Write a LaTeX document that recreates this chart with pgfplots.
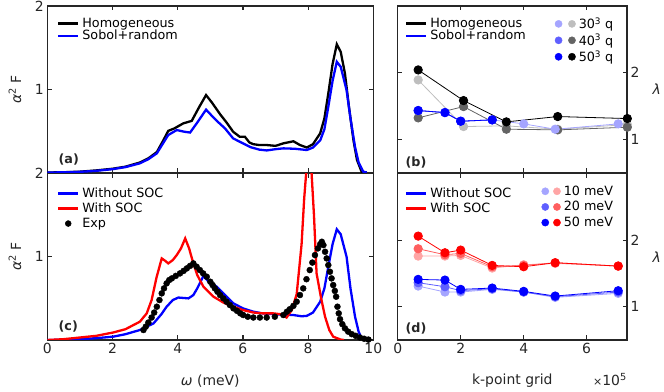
\documentclass[border=0pt]{standalone}
\usepackage{fontspec}
\setmainfont{DejaVu Sans}
\usepackage{pgfplots}
\pgfplotsset{compat=1.18}

\newcommand{\myLegFont}{\fontsize{12.8}{15}\selectfont}
\newcommand{\myTickFont}{\fontsize{14}{16}\selectfont}
\newcommand{\mySmallFont}{\fontsize{11}{13}\selectfont}

\definecolor{axgray}{RGB}{38,38,38}
\definecolor{blue50}{RGB}{0,0,255}
\definecolor{blue40}{RGB}{95,95,255}
\definecolor{blue30}{RGB}{165,165,255}
\definecolor{red50}{RGB}{255,0,0}
\definecolor{red20}{RGB}{255,95,95}
\definecolor{red10}{RGB}{255,165,165}
\definecolor{gray30}{RGB}{190,190,190}
\definecolor{gray40}{RGB}{100,100,100}

\pgfplotsset{
  panel/.style={
    scale only axis, anchor=south west,
    axis line style={axgray, line width=1.3bp},
    tick style={axgray, line width=1.2bp},
    major tick length=4.5bp, tick align=inside,
    tick label style={font=\myTickFont, text=axgray},
    /pgf/number format/assume math mode=true,
    label style={font=\myTickFont, text=axgray},
    legend style={draw=none, fill=none, font=\myLegFont, inner sep=0pt, outer sep=0pt,
      cells={anchor=west}, row sep=0bp,
      /tikz/every odd column/.append style={column sep=1bp}},
    legend image code/.code={\draw[#1] (0bp,0bp) -- (20bp,0bp);},
  },
  leftp/.style={panel, width=326bp, height=166.5bp,
    xmin=0, xmax=10, ymin=0, ymax=2, xtick={0,2,...,10}, ytick={1,2},
    ylabel style={at={(axis description cs:-0.099,0.5)}, anchor=center}},
  rightp/.style={panel, width=229.3bp, height=166.5bp,
    xmin=0, xmax=7.28, ymin=0.5, ymax=3, xtick={0,2,4,6}, ytick={1,2},
    yticklabel pos=right, clip=false,
    ylabel style={at={(axis description cs:1.13,0.5)}, anchor=center, rotate=-90}},
  pt/.style={mark=*, mark size=4.2bp, line width=0.8bp},
  pair/.style n args={3}{legend image code/.code={
    \fill[#1] (3.6bp,0bp) circle (3.6bp);
    \fill[#2] (3.6bp+#3,0bp) circle (3.6bp);}},
}

\begin{document}
\begin{tikzpicture}
\path[use as bounding box] (0,0) rectangle (664bp,392bp);

% (a)
\begin{axis}[leftp, at={(47.3bp,219.5bp)}, xticklabels={},
  ylabel={{\itshape α}\textsuperscript{2} F},
  legend style={at={(0.030,0.94)}, anchor=north west, row sep=-2.5bp}]
\addplot[black, line width=2.3bp] coordinates {
 (0,0) (0.5,0.003) (1.0,0.01) (1.5,0.025) (2.0,0.045) (2.4,0.07) (2.84,0.12)
 (3.1,0.17) (3.36,0.245) (3.55,0.38) (3.71,0.50) (3.9,0.53) (4.17,0.59)
 (4.43,0.62) (4.65,0.78) (4.87,0.93) (5.05,0.84) (5.3,0.70) (5.5,0.60)
 (5.7,0.49) (5.9,0.43) (6.06,0.43) (6.2,0.36) (6.32,0.34) (6.5,0.33)
 (6.73,0.33) (7.0,0.32) (7.24,0.35) (7.55,0.375) (7.75,0.33) (7.96,0.30)
 (8.15,0.34) (8.37,0.47) (8.5,0.65) (8.62,0.95) (8.75,1.3) (8.88,1.54)
 (9.0,1.45) (9.13,1.19) (9.25,0.8) (9.39,0.39) (9.5,0.15) (9.64,0.01) (9.8,0)
};
\addlegendentry{Homogeneous}
\addplot[blue50, line width=2.3bp] coordinates {
 (0,0) (0.5,0.002) (1.0,0.008) (1.5,0.02) (2.0,0.04) (2.4,0.065) (2.84,0.11)
 (3.1,0.16) (3.36,0.23) (3.55,0.35) (3.71,0.45) (3.97,0.51) (4.2,0.49)
 (4.38,0.48) (4.6,0.6) (4.87,0.755) (5.05,0.68) (5.2,0.62) (5.45,0.53)
 (5.7,0.41) (6.0,0.35) (6.23,0.305) (6.5,0.275) (6.73,0.265) (7.0,0.28)
 (7.24,0.29) (7.6,0.285) (7.96,0.27) (8.15,0.3) (8.37,0.385) (8.5,0.52)
 (8.62,0.79) (8.75,1.1) (8.88,1.33) (9.0,1.27) (9.18,0.99) (9.3,0.65)
 (9.44,0.305) (9.55,0.12) (9.69,0.01) (9.8,0)
};
\addlegendentry{Sobol+random}
\node[anchor=west, font=\bfseries\myLegFont, text=axgray] at (axis description cs:0.024,0.081) {(a)};
\end{axis}

% (c)
\begin{axis}[leftp, at={(47.3bp,52bp)},
  ylabel={{\itshape α}\textsuperscript{2} F},
  xlabel={{\itshape ω} (meV)},
  xlabel style={at={(axis description cs:0.5,0)}, anchor=center, yshift=-41bp},
  legend style={at={(0.030,0.926)}, anchor=north west}]
\addplot[blue50, line width=2.3bp] coordinates {
 (0,0) (0.5,0.003) (1,0.01) (1.5,0.022) (2.02,0.04) (2.4,0.07) (2.84,0.12)
 (3.26,0.2) (3.5,0.31) (3.66,0.40) (3.85,0.48) (4.02,0.51) (4.33,0.50)
 (4.48,0.54) (4.6,0.62) (4.79,0.77) (4.95,0.70) (5.2,0.64) (5.45,0.54)
 (5.71,0.44) (6.0,0.38) (6.32,0.34) (6.6,0.32) (6.93,0.31) (7.25,0.305)
 (7.55,0.30) (7.8,0.285) (7.96,0.29) (8.15,0.33) (8.37,0.46) (8.5,0.62)
 (8.62,0.88) (8.75,1.15) (8.88,1.33) (9.0,1.27) (9.18,1.0) (9.3,0.62)
 (9.44,0.28) (9.55,0.10) (9.64,0.02) (9.8,0)
};
\addlegendentry{Without SOC}
\addplot[red50, line width=2.3bp] coordinates {
 (0,0) (0.5,0.01) (1,0.03) (1.5,0.05) (2.02,0.09) (2.4,0.13) (2.84,0.22)
 (3.05,0.32) (3.2,0.48) (3.35,0.75) (3.51,0.98) (3.62,0.95) (3.71,0.92)
 (3.85,0.96) (3.97,1.02) (4.1,1.1) (4.23,1.22) (4.35,1.1) (4.48,0.92)
 (4.6,0.78) (4.79,0.64) (5.1,0.52) (5.4,0.45) (5.71,0.40) (6.0,0.36)
 (6.32,0.33) (6.6,0.32) (6.93,0.32) (7.15,0.31) (7.34,0.27) (7.5,0.36)
 (7.65,0.55) (7.8,1.15) (7.88,1.7) (7.95,2.05) (8.02,2.25) (8.1,2.05)
 (8.18,1.5) (8.26,0.80) (8.4,0.5) (8.52,0.28) (8.65,0.12) (8.77,0.04)
 (9.0,0.005) (9.1,0)
};
\addlegendentry{With SOC}
\addplot[only marks, mark=*, mark size=3bp, black,
  legend image code/.code={\path[draw=none, fill=none] (0bp,0bp) -- (20bp,0bp); \fill[black] (10bp,0bp) circle (3bp);}] coordinates {
 (2.95,0.12) (3.02,0.16) (3.1,0.21) (3.2,0.27) (3.28,0.33) (3.36,0.40)
 (3.44,0.48) (3.51,0.56) (3.58,0.62) (3.66,0.68) (3.74,0.72) (3.82,0.74)
 (3.94,0.77) (4.07,0.80) (4.18,0.83) (4.28,0.86) (4.38,0.89) (4.48,0.92)
 (4.58,0.88) (4.68,0.84) (4.78,0.80) (4.89,0.76) (5.0,0.70) (5.07,0.66)
 (5.14,0.62) (5.22,0.58) (5.3,0.54) (5.4,0.50) (5.5,0.46) (5.6,0.42)
 (5.71,0.38) (5.82,0.35) (5.92,0.32) (6.01,0.30) (6.15,0.28) (6.32,0.27)
 (6.52,0.27) (6.73,0.27) (6.98,0.28) (7.24,0.30) (7.35,0.34) (7.44,0.37)
 (7.55,0.41) (7.65,0.46) (7.75,0.54) (7.85,0.62) (7.95,0.73) (8.05,0.84)
 (8.13,0.93) (8.21,1.02) (8.3,1.1) (8.37,1.15) (8.42,1.18) (8.47,1.14)
 (8.52,1.06) (8.57,0.98) (8.62,0.90) (8.67,0.82) (8.72,0.74) (8.77,0.66)
 (8.82,0.59) (8.86,0.52) (8.9,0.40) (8.94,0.32) (8.98,0.25) (9.05,0.19)
 (9.13,0.14) (9.23,0.10) (9.34,0.07) (9.46,0.05) (9.59,0.03) (9.72,0.015)
 (9.85,0.005)
};
\addlegendentry{Exp}
\node[anchor=west, font=\bfseries\myLegFont, text=axgray] at (axis description cs:0.024,0.082) {(c)};
\end{axis}

% (b)
\begin{axis}[rightp, at={(397.7bp,219.5bp)}, xticklabels={},
  ylabel={{\itshape λ}},
  legend style={at={(0.032,0.94)}, anchor=north west, row sep=-2.5bp}]
\addlegendimage{black, line width=2.3bp}
\addlegendentry{Homogeneous}
\addlegendimage{blue50, line width=2.3bp}
\addlegendentry{Sobol+random}
\addplot[gray30, pt, forget plot] coordinates {
 (0.65,1.89) (2.09,1.19) (3.45,1.20) (5.08,1.15) (7.29,1.22)};
\addplot[gray40, pt, forget plot] coordinates {
 (0.65,1.32) (2.09,1.49) (3.45,1.15) (5.08,1.14) (7.29,1.18)};
\addplot[black, pt, forget plot] coordinates {
 (0.65,2.04) (2.09,1.58) (3.45,1.26) (5.08,1.34) (7.29,1.31)};
\addplot[blue30, pt, forget plot] coordinates {
 (0.65,1.43) (1.5,1.40) (2.0,1.27) (3.0,1.29) (4.0,1.23) (5.0,1.15) (7.0,1.23)};
\addplot[blue40, pt, forget plot] coordinates {
 (0.65,1.43) (1.5,1.40) (2.0,1.27) (3.0,1.29)};
\addplot[blue50, pt, forget plot] coordinates {
 (0.65,1.43) (1.5,1.40) (2.0,1.27) (3.0,1.29)};
\node[anchor=west, font=\bfseries\myLegFont, text=axgray] at (axis description cs:0.019,0.063) {(b)};
\end{axis}
\begin{axis}[rightp, at={(397.7bp,219.5bp)}, hide axis,
  legend style={at={(0.685,0.942)}, anchor=north west, row sep=0bp}]
\addlegendimage{pair={blue30}{gray30}{13.4bp}}
\addlegendentry{30\textsuperscript{3} q}
\addlegendimage{pair={blue40}{gray40}{13.4bp}}
\addlegendentry{40\textsuperscript{3} q}
\addlegendimage{pair={blue50}{black}{13.4bp}}
\addlegendentry{50\textsuperscript{3} q}
\end{axis}

% (d)
\begin{axis}[rightp, at={(397.7bp,52bp)},
  ylabel={{\itshape λ}},
  xlabel={k-point grid},
  xlabel style={at={(axis description cs:0.5,0)}, anchor=center, yshift=-41bp},
  legend style={at={(0.032,0.926)}, anchor=north west}]
\addlegendimage{blue50, line width=2.3bp}
\addlegendentry{Without SOC}
\addlegendimage{red50, line width=2.3bp}
\addlegendentry{With SOC}
\addplot[blue30, pt, forget plot] coordinates {
 (0.65,1.31) (1.5,1.22) (2.0,1.22) (3.0,1.26) (4.0,1.22) (5.0,1.14) (7.0,1.20)};
\addplot[blue40, pt, forget plot] coordinates {
 (0.65,1.36) (1.5,1.30) (2.0,1.24) (3.0,1.27) (4.0,1.22) (5.0,1.15) (7.0,1.22)};
\addplot[blue50, pt, forget plot] coordinates {
 (0.65,1.41) (1.5,1.40) (2.0,1.26) (3.0,1.28) (4.0,1.23) (5.0,1.16) (7.0,1.24)};
\addplot[red10, pt, forget plot] coordinates {
 (0.65,1.76) (1.5,1.76) (2.0,1.77) (3.0,1.58) (4.0,1.63) (5.0,1.65) (7.0,1.61)};
\addplot[red20, pt, forget plot] coordinates {
 (0.65,1.87) (1.5,1.78) (2.0,1.80) (3.0,1.60) (4.0,1.62) (5.0,1.66) (7.0,1.61)};
\addplot[red50, pt, forget plot] coordinates {
 (0.65,2.06) (1.5,1.81) (2.0,1.85) (3.0,1.62) (4.0,1.60) (5.0,1.66) (7.0,1.61)};
\node[anchor=west, font=\bfseries\myLegFont, text=axgray] at (axis description cs:0.019,0.069) {(d)};
\node[anchor=north east, inner sep=0pt, font=\myTickFont, text=axgray] at (axis description cs:1,0) [yshift=-33bp] {{\mySmallFont ×}10\textsuperscript{5}};
\end{axis}
\begin{axis}[rightp, at={(397.7bp,52bp)}, hide axis,
  legend style={at={(0.627,0.938)}, anchor=north west, row sep=0.7bp}]
\addlegendimage{pair={blue30}{red10}{11.7bp}}
\addlegendentry{10 meV}
\addlegendimage{pair={blue40}{red20}{11.7bp}}
\addlegendentry{20 meV}
\addlegendimage{pair={blue50}{red50}{11.7bp}}
\addlegendentry{50 meV}
\end{axis}
\end{tikzpicture}
\end{document}
